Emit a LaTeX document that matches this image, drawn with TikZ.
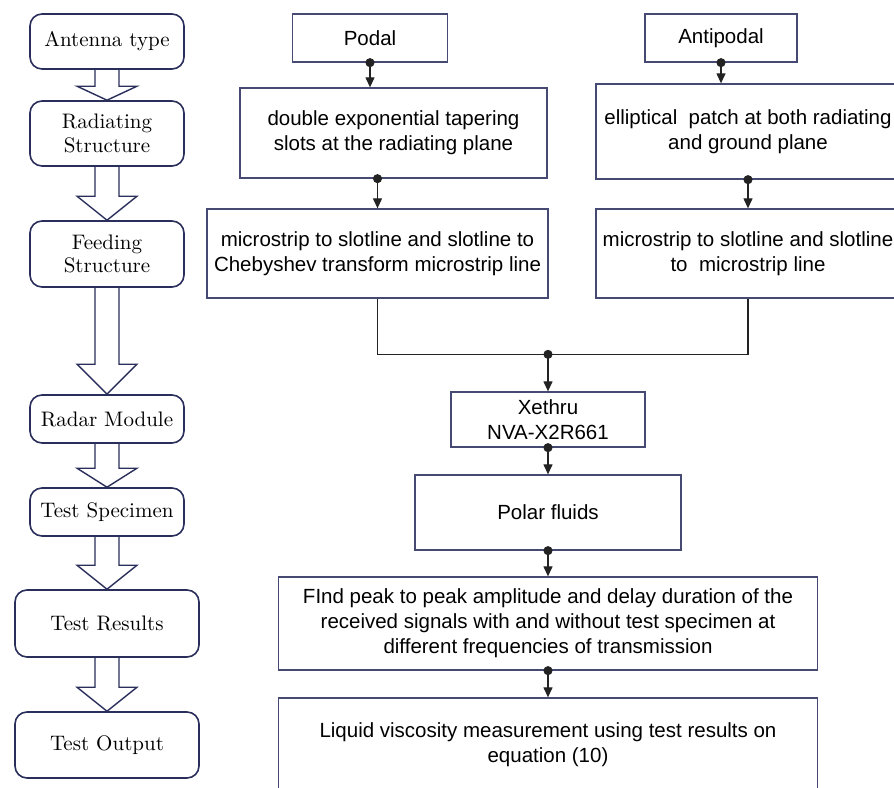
\documentclass[tikz,border=0pt]{standalone}
\usepackage{fontspec}
\newfontfamily\arialfont{Liberation Sans}
\newfontfamily\stagefont{lmroman10-regular}[Extension=.otf]
\usetikzlibrary{arrows.meta, calc}

\definecolor{stepnavy}{RGB}{42,46,90}
\definecolor{boxnavy}{RGB}{70,74,114}
\definecolor{linegray}{RGB}{35,35,35}

\begin{document}
\begin{tikzpicture}[
    x = 1pt, y = -1pt,
    stage/.style = {draw=stepnavy, line width=1.6pt, rounded corners=12pt,
      align=center, inner sep=0pt, font=\stagefont\fontsize{21}{23.5}\selectfont},
    task/.style = {draw=boxnavy, line width=1.3pt, align=center,
      inner sep=0pt, font=\arialfont\fontsize{20.5}{25}\selectfont},
    flow/.style = {draw=linegray, line width=1.2pt,
      {Circle[length=9pt]}-{Triangle[length=10pt, width=9pt]}, shorten <=-4.5pt},
    link/.style = {draw=linegray, line width=1.2pt},
    blockarrow/.style = {draw=stepnavy, line width=1.4pt, line join=miter}
  ]
  \clip (0,0) rectangle (894,787);

  % left column
  \node[stage, minimum width=154pt, minimum height=55pt] (antenna) at (107,41.5) {Antenna type};
  \node[stage, minimum width=154pt, minimum height=65pt] (radiating) at (107,133.5) {Radiating\\Structure};
  \node[stage, minimum width=154pt, minimum height=66pt] (feeding) at (107,254) {Feeding\\Structure};
  \node[stage, minimum width=154pt, minimum height=48pt] (radar) at (107,419) {Radar Module};
  \node[stage, minimum width=154pt, minimum height=48pt] (specimen) at (107,512) {Test Specimen};
  \node[stage, minimum width=184pt, minimum height=67pt] (results) at (107,623.5) {Test Results};
  \node[stage, minimum width=184pt, minimum height=66pt] (output) at (107,745) {Test Output};

  \foreach \a/\b/\h in {antenna/radiating/14, radiating/feeding/24, feeding/radar/30,
                        radar/specimen/19, specimen/results/24, results/output/24}
    \draw[blockarrow] ($(\a.south)+(-12,0)$) -- ($(\b.north)+(-12,-\h)$)
      -- ($(\b.north)+(-30,-\h)$) -- (\b.north) -- ($(\b.north)+(30,-\h)$)
      -- ($(\b.north)+(12,-\h)$) -- ($(\a.south)+(12,0)$);

  % right column
  \node[task, minimum width=155pt, minimum height=48pt] (podal) at (370,38) {Podal};
  \node[task, minimum width=152pt, minimum height=48pt] (antipodal) at (721,38) {Antipodal};
  \node[task, minimum width=307pt, minimum height=90pt] (podalrad) at (393.5,133)
    {double exponential tapering\\slots at the radiating plane};
  \node[task, minimum width=304pt, minimum height=95pt] (antirad) at (748,131.5)
    {elliptical\ \ patch at both radiating\\and ground plane};
  \node[task, minimum width=341pt, minimum height=89pt] (podalfeed) at (377.5,253.5)
    {microstrip to slotline and slotline to\\Chebyshev transform microstrip line};
  \node[task, minimum width=304pt, minimum height=89pt] (antifeed) at (748,253.5)
    {microstrip to slotline and slotline\\to\ \ microstrip line};
  \node[task, minimum width=194pt, minimum height=55pt] (xethru) at (548,419.5)
    {Xethru\\NVA-X2R661};
  \node[task, minimum width=266pt, minimum height=75pt] (polar) at (548,512.5) {Polar fluids};
  \node[task, minimum width=539pt, minimum height=93pt] (peak) at (548,623.5)
    {FInd peak to peak amplitude and delay duration of the\\received signals with and without test specimen at\\different frequencies of transmission};
  \node[task, minimum width=539pt, minimum height=94pt] (viscosity) at (548,745)
    {Liquid viscosity measurement using test results on\\equation (10)};

  % connectors
  \draw[flow] (podal.south) -- (podal.south |- podalrad.north);
  \draw[flow] (antipodal.south) -- (antipodal.south |- antirad.north);
  \draw[flow] (podalfeed.north |- podalrad.south) -- (podalfeed.north);
  \draw[flow] (antirad.south) -- (antifeed.north);
  \path (xethru.north) ++(0,-37) coordinate (merge);
  \draw[link] (podalfeed.south) |- (merge) -| (antifeed.south);
  \draw[flow] (merge) -- (xethru.north);
  \draw[flow] (xethru.south) -- (polar.north);
  \draw[flow] (polar.south) -- (peak.north);
  \draw[flow] (peak.south) -- (viscosity.north);

\end{tikzpicture}
\end{document}
